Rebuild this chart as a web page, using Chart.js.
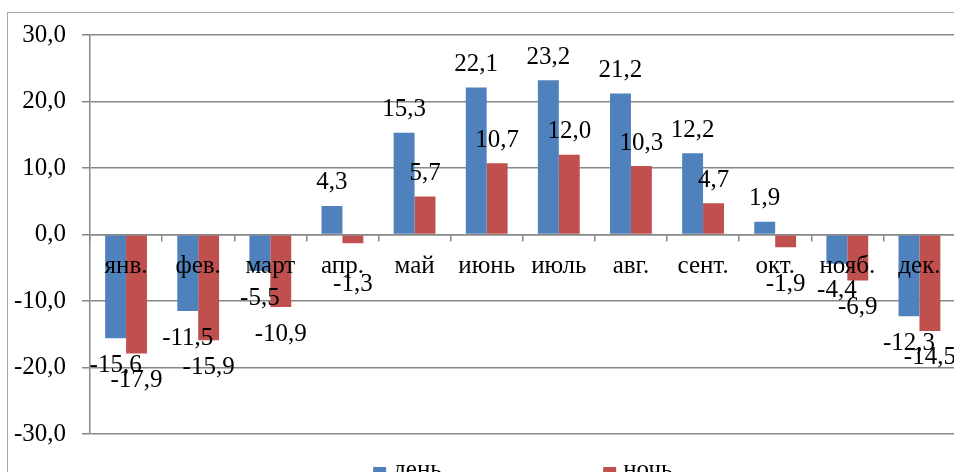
<!DOCTYPE html>
<html>
<head>
<meta charset="utf-8">
<script src="https://cdn.jsdelivr.net/npm/chart.js@4"></script>
<style>
  html, body { margin: 0; padding: 0; background: #fff; overflow: hidden; }
  #wrap { position: relative; width: 954px; height: 472px; overflow: hidden; }
  canvas { position: absolute; left: 0; top: 0; }
</style>
</head>
<body>
<div id="wrap"><canvas id="myChart" width="990" height="500"></canvas></div>
<script>
const months = ['янв.', 'фев.', 'март', 'апр.', 'май', 'июнь', 'июль', 'авг.', 'сент.', 'окт.', 'нояб.', 'дек.']
const dayTemp = [-15.6, -11.5, -5.5, 4.3, 15.3, 22.1, 23.2, 21.2, 12.2, 1.9, -4.4, -12.3]
const nightTemp = [-17.9, -15.9, -10.9, -1.3, 5.7, 10.7, 12.0, 10.3, 4.7, -1.9, -6.9, -14.5]
const yTicks = [-30, -20, -10, 0, 10, 20, 30]

const FONT = "'Liberation Serif', 'Times New Roman', serif"
const GRID = '#888888'

const fmt = v => v.toFixed(1).replace('.', ',')

// outer chart frame like the excel one
const framePlugin = {
    id: 'frame',
    beforeDraw(chart) {
        const c = chart.ctx
        c.save()
        c.strokeStyle = '#a6a6a6'
        c.lineWidth = 1
        c.strokeRect(7.5, 12.5, 1200, 600)
        c.restore()
    }
}

// value labels at bar ends, negative ones kept clear of the month names
const valueLabels = {
    id: 'valueLabels',
    afterDraw(chart) {
        const c = chart.ctx
        const zeroY = chart.scales.y.getPixelForValue(0)
        c.save()
        c.font = '25px ' + FONT
        c.fillStyle = '#000'
        c.textAlign = 'center'
        c.textBaseline = 'middle'
        chart.data.datasets.forEach((ds, i) => {
            const meta = chart.getDatasetMeta(i)
            meta.data.forEach((bar, j) => {
                const v = ds.data[j]
                const y = v >= 0 ? bar.y - 23 : Math.max(bar.y + 27, zeroY + 50)
                c.fillText(fmt(v), bar.x, y)
            })
        })
        c.restore()
    }
}

// legend under the plot, items far apart
const bottomLegend = {
    id: 'bottomLegend',
    afterDraw(chart) {
        const c = chart.ctx
        const area = chart.chartArea
        c.save()
        c.font = '25px ' + FONT
        c.textBaseline = 'alphabetic'
        c.textAlign = 'left'
        const box = 13, gap = 7, step = 230
        const items = chart.data.datasets.map(ds => ({
            text: ds.label, color: ds.backgroundColor,
            w: box + gap + c.measureText(ds.label).width
        }))
        const total = step * (items.length - 1) + items[items.length - 1].w
        let x = (area.left + area.right) / 2 - total / 2
        const y = 467
        items.forEach(it => {
            c.fillStyle = it.color
            c.fillRect(x, y, box, box)
            c.fillStyle = '#000'
            c.fillText(it.text, x + box + gap, y + 10)
            x += step
        })
        c.restore()
    }
}

const data = {
    labels: months,
    datasets: [
        {
            label: 'день',
            data: dayTemp,
            backgroundColor: '#4f81bd',
            categoryPercentage: 0.58,
            barPercentage: 1.0,
        },
        {
            label: 'ночь',
            data: nightTemp,
            backgroundColor: '#c0504d',
            categoryPercentage: 0.58,
            barPercentage: 1.0,
        },
    ],
}

const config = {
    type: 'bar',
    data: data,
    options: {
        responsive: false,
        animation: false,
        layout: {
            padding: { top: 35, right: 34.5, bottom: 66, left: 0 }
        },
        plugins: {
            legend: { display: false },
            tooltip: { enabled: false },
        },
        scales: {
            x: {
                position: { y: 0 },
                offset: true,
                grid: {
                    display: true,
                    drawOnChartArea: false,
                    drawTicks: true,
                    tickLength: 6,
                    color: GRID,
                    lineWidth: 1.5,
                    offset: true,
                },
                border: { color: GRID, width: 1.5, z: 1 },
                ticks: {
                    z: 2,
                    font: { family: FONT, size: 25 },
                    color: '#000',
                    padding: 11,
                    maxRotation: 0,
                    autoSkip: false,
                },
            },
            y: {
                min: yTicks[0],
                max: yTicks[yTicks.length - 1],
                afterBuildTicks: scale => {
                    scale.ticks = yTicks.map(v => ({ value: v }))
                },
                afterFit: scale => { scale.width = 90 },
                grid: {
                    color: GRID,
                    lineWidth: 1.5,
                    tickLength: 8,
                },
                border: { color: GRID, width: 1.5 },
                ticks: {
                    font: { family: FONT, size: 25 },
                    color: '#000',
                    padding: 16,
                    callback: v => fmt(v),
                },
            },
        },
    },
    plugins: [framePlugin, valueLabels, bottomLegend],
}

const myChart = new Chart(document.getElementById('myChart').getContext('2d'), config)
</script>
</body>
</html>
